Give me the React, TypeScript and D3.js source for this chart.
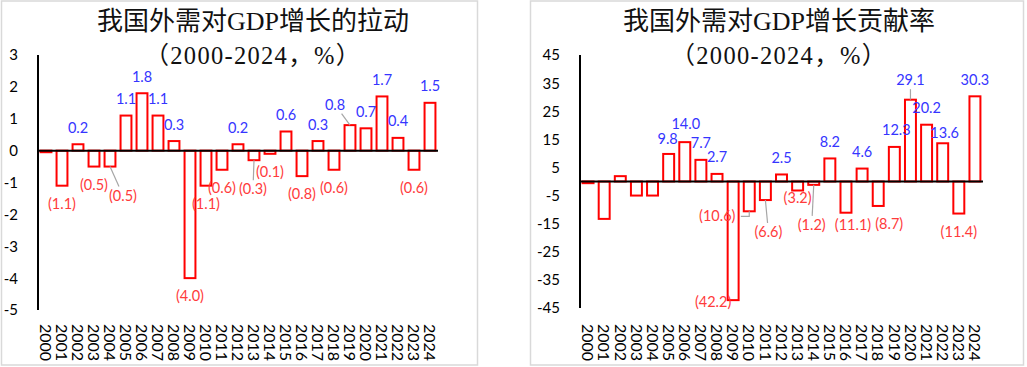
import React from "react";
import * as d3 from "d3";

const years = ["2000","2001","2002","2003","2004","2005","2006","2007","2008","2009","2010","2011","2012","2013","2014","2015","2016","2017","2018","2019","2020","2021","2022","2023","2024"];
const pullValues = [-0.05,-1.1,0.2,-0.5,-0.5,1.1,1.8,1.1,0.3,-4.0,-1.1,-0.6,0.2,-0.3,-0.1,0.6,-0.8,0.3,-0.6,0.8,0.7,1.7,0.4,-0.6,1.5];
const contribValues = [-0.6,-13.3,1.9,-5.0,-5.0,9.8,14.0,7.7,2.7,-42.2,-10.6,-6.6,2.5,-3.2,-1.2,8.2,-11.1,4.6,-8.7,12.3,29.1,20.2,13.6,-11.4,30.3];
const pullTicks = [3,2,1,0,-1,-2,-3,-4,-5];
const contribTicks = [45,35,25,15,5,-5,-15,-25,-35,-45];
const pullUnlabelled = ["2000"];
const contribUnlabelled = ["2000","2001","2002","2003","2004"];
const pullTitle = "我国外需对GDP增长的拉动";
const contribTitle = "我国外需对GDP增长贡献率";
const subTitle = "（2000-2024，%）";

type Nudge = { dx?: number; dy?: number; leader?: "line" | "elbow" };
const pullNudges: Record<string, Nudge> = {
  "2004": { dx: 13, dy: 11, leader: "line" },
  "2013": { dx: -1, dy: 11, leader: "line" },
  "2019": { dx: -15, dy: -4, leader: "line" },
};
const contribNudges: Record<string, Nudge> = {
  "2005": { dx: -1, dy: 1 },
  "2006": { dx: 1, dy: -1.5 },
  "2009": { dx: -20, dy: -16 },
  "2010": { dx: -32, dy: -13, leader: "elbow" },
  "2011": { dx: 3, dy: 14, leader: "line" },
  "2013": { dy: -11 },
  "2014": { dx: -2, dy: 22, leader: "line" },
  "2016": { dx: 7, dy: -6 },
  "2018": { dx: 11 },
  "2019": { dx: 2 },
  "2020": { dy: -3, leader: "line" },
  "2022": { dx: 2, dy: 6 },
};

const SANS = "Lato, 'Open Sans', sans-serif";
const SERIF = "'Liberation Serif', 'Noto Sans CJK SC', serif";
const BLUE = "#3535FF";
const RED_TXT = "#FF3B3B";

type PanelProps = {
  box: [number, number, number, number];
  title: string;
  values: number[];
  ticks: number[];
  unlabelled: string[];
  nudges: Record<string, Nudge>;
  x0: number; x1: number; yTop: number; yBot: number;
  titleX: number;
  tickRight: number;
};

function fmt(v: number) {
  return v < 0 ? `(${Math.abs(v).toFixed(1)})` : v.toFixed(1);
}

function Panel(p: PanelProps) {
  const x = d3.scaleBand<string>().domain(years).range([p.x0, p.x1]).paddingInner(0.32).paddingOuter(0.16);
  const y = d3.scaleLinear().domain([p.ticks[p.ticks.length - 1], p.ticks[0]]).range([p.yBot, p.yTop]);
  const y0 = y(0);
  return (
    <g>
      <rect x={p.box[0]} y={p.box[1]} width={p.box[2]} height={p.box[3]} fill="#fff" stroke="#D9D9D9" strokeWidth={1.5} />
      <text x={p.titleX} y={30} textAnchor="middle" fontFamily={SERIF} fontSize={26} fill="#111">{p.title}</text>
      <text x={p.titleX} y={64} textAnchor="middle" fontFamily={SERIF} fontSize={24.5} letterSpacing={1.3} fill="#111">{subTitle}</text>
      {p.ticks.map((t) => (
        <text key={t} x={p.tickRight} y={y(t)} dy="0.36em" textAnchor="end" fontFamily={SANS} fontSize={15} fill="#000">{t}</text>
      ))}
      {years.map((yr, i) => {
        const v = p.values[i];
        const bx = x(yr)!;
        const top = Math.min(y(v), y0);
        const h = Math.abs(y(v) - y0);
        return <rect key={yr} x={bx} y={top} width={x.bandwidth()} height={h} fill="#fff" stroke="#FF0000" strokeWidth={2} />;
      })}
      <line x1={p.x0} x2={p.x1} y1={y0} y2={y0} stroke="#000" strokeWidth={2} />
      <line x1={p.x0} x2={p.x0} y1={p.yTop} y2={p.yBot} stroke="#000" strokeWidth={2} />
      {years.map((yr, i) => {
        if (p.unlabelled.includes(yr)) return null;
        const v = p.values[i];
        const cx = x(yr)! + x.bandwidth() / 2;
        const end = y(v);
        const n = p.nudges[yr] || {};
        const lx = cx + (n.dx || 0);
        const ly = (v >= 0 ? end - 16.5 : end + 18) + (n.dy || 0);
        const txt = fmt(v);
        const hw = txt.length * 3.6 + 2;
        const hh = 7 + 2;
        let leader = null;
        if (n.leader === "line") {
          const ddx = lx - cx, ddy = ly - end;
          const t = Math.min(Math.abs(ddx) > 0.01 ? hw / Math.abs(ddx) : Infinity, Math.abs(ddy) > 0.01 ? hh / Math.abs(ddy) : Infinity);
          const ex = lx - ddx * t, ey = ly - ddy * t;
          leader = <line x1={cx} y1={end} x2={ex} y2={ey} stroke="#A6A6A6" strokeWidth={1.2} />;
        } else if (n.leader === "elbow") {
          leader = <polyline points={`${cx},${end} ${cx},${ly} ${lx + hw},${ly}`} fill="none" stroke="#A6A6A6" strokeWidth={1.2} />;
        }
        return (
          <g key={yr}>
            {leader}
            <text x={lx} y={ly} dy="0.35em" textAnchor="middle" fontFamily={SANS} fontSize={14.5} fill={v >= 0 ? BLUE : RED_TXT}>{txt}</text>
          </g>
        );
      })}
      {years.map((yr) => {
        const cx = x(yr)! + x.bandwidth() / 2;
        return (
          <text key={yr} transform={`translate(${cx},${324}) rotate(90)`} dy="0.36em" fontFamily={SANS} fontSize={16} fill="#000">{yr}</text>
        );
      })}
    </g>
  );
}

export default function App() {
  return (
    <div style={{ position: "absolute", left: 0, top: 0 }}>
      <svg width={1027} height={367} style={{ display: "block" }}>
        <rect width={1027} height={367} fill="#fff" />
        <Panel box={[1.5, 1, 476, 364]} title={pullTitle} values={pullValues} ticks={pullTicks}
          unlabelled={pullUnlabelled} nudges={pullNudges} x0={38} x1={438} yTop={55} yBot={310} titleX={253} tickRight={18} />
        <Panel box={[530.5, 1, 493, 364]} title={contribTitle} values={contribValues} ticks={contribTicks}
          unlabelled={contribUnlabelled} nudges={contribNudges} x0={580} x1={983} yTop={55} yBot={308} titleX={779} tickRight={560} />
      </svg>
    </div>
  );
}
